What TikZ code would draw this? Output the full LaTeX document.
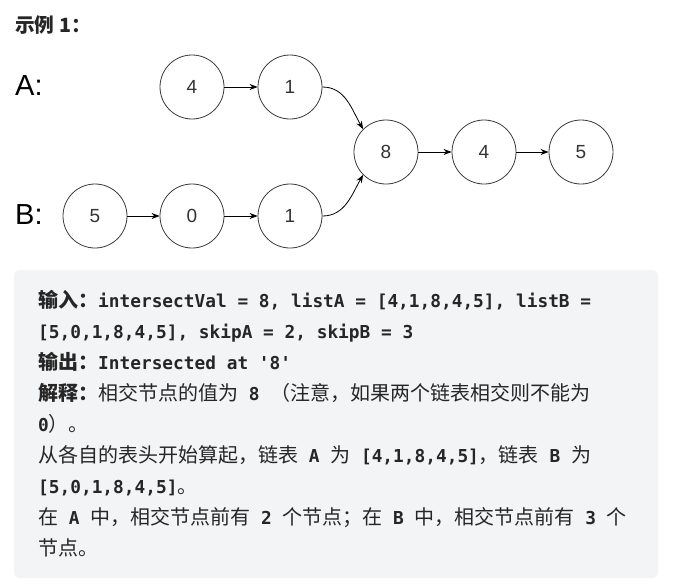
\documentclass[tikz,border=0pt]{standalone}
\usepackage{fontspec}
\setmainfont{Liberation Sans}
\setmonofont{DejaVu Sans Mono}
\newfontfamily\zh[Scale=1.1236]{Noto Sans CJK SC}
\usetikzlibrary{arrows.meta}
\definecolor{txt}{HTML}{262626}
\definecolor{boxbg}{HTML}{F3F4F6}
\definecolor{ring}{HTML}{3A3A3A}

\begin{document}
\begin{tikzpicture}[x=1pt,y=1pt,
  elem/.style={draw=ring,circle,line width=0.8pt,minimum size=64pt,inner sep=0pt,text=black!80,font=\fontsize{19}{20}\selectfont},
  link/.style={-{Stealth[length=8pt,width=6pt,inset=2.5pt]},line width=0.8pt},
  txtline/.style={anchor=base west,inner sep=0pt,text=txt,font=\ttfamily\bfseries\fontsize{17.8}{20}\selectfont}]
\useasboundingbox[fill=white] (0,0) rectangle (679,-587);
\node[anchor=west,inner sep=0pt,text=txt,font=\fontsize{17.5}{20}\selectfont] (title) at (15,-25) {\zh\bfseries 示例 1：};
\node[anchor=base west,inner sep=0pt,font=\fontsize{29}{30}\selectfont] (labA) at (15,-95) {A:};
\node[anchor=base west,inner sep=0pt,font=\fontsize{29}{30}\selectfont] (labB) at (15,-224) {B:};
% list A
\node[elem] (a4) at (192,-87) {4};
\node[elem] (a1) at (290,-87) {1};
% list B
\node[elem] (b5) at (95,-216) {5};
\node[elem] (b0) at (192,-216) {0};
\node[elem] (b1) at (290,-216) {1};
% shared tail
\node[elem] (c8) at (386,-152) {8};
\node[elem] (c4) at (484,-152) {4};
\node[elem] (c5) at (581,-152) {5};
\draw[link] (a4) -- (a1);
\draw[link] (b5) -- (b0);
\draw[link] (b0) -- (b1);
\draw[link] (a1.east) to[out=0,in=120] (c8.135);
\draw[link] (b1.east) to[out=0,in=-120] (c8.-135);
\draw[link] (c8) -- (c4);
\draw[link] (c4) -- (c5);
% explanation box
\fill[boxbg,rounded corners=5pt] (14,-270) rectangle (658,-578);
\node[txtline] (l1) at (38,-307) {{\zh 输入：}intersectVal = 8, listA = [4,1,8,4,5], listB =};
\node[txtline] (l2) at (38,-338) {[5,0,1,8,4,5], skipA = 2, skipB = 3};
\node[txtline] (l3) at (38,-369) {{\zh 输出：}Intersected at '8'};
\node[txtline] (l4) at (38,-400) {{\zh 解释：}{\zh\mdseries 相交节点的值为} 8 {\zh\mdseries （注意，如果两个链表相交则不能为}};
\node[txtline] (l5) at (38,-431) {0{\zh\mdseries ）。}};
\node[txtline] (l6) at (38,-462) {{\zh\mdseries 从各自的表头开始算起，链表} A {\zh\mdseries 为} [4,1,8,4,5]{\zh\mdseries ，链表} B {\zh\mdseries 为}};
\node[txtline] (l7) at (38,-493) {[5,0,1,8,4,5]{\zh\mdseries 。}};
\node[txtline] (l8) at (38,-524) {{\zh\mdseries 在} A {\zh\mdseries 中，相交节点前有} 2 {\zh\mdseries 个节点；在} B {\zh\mdseries 中，相交节点前有} 3 {\zh\mdseries 个}};
\node[txtline] (l9) at (38,-555) {{\zh\mdseries 节点。}};
\end{tikzpicture}
\end{document}
